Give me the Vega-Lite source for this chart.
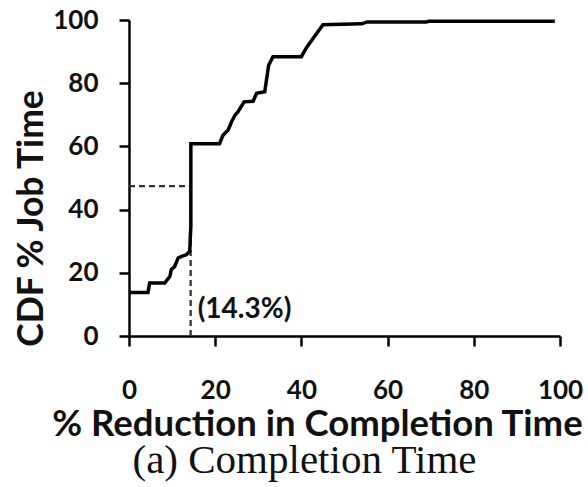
{
  "$schema": "https://vega.github.io/schema/vega-lite/v6.json",
  "width": 431,
  "height": 316,
  "autosize": {"type": "none"},
  "padding": {"left": 129, "top": 20, "right": 28, "bottom": 151},
  "background": "white",
  "title": {
    "text": "(a) Completion Time",
    "orient": "bottom",
    "anchor": "middle",
    "frame": "group",
    "dx": -40,
    "offset": -2,
    "font": "Liberation Serif",
    "fontSize": 41,
    "fontWeight": "normal",
    "color": "#111111"
  },
  "datasets": {
    "curve": [
      {"i": 1, "reduction": 0, "cdf": 13.8},
      {"i": 2, "reduction": 4.4, "cdf": 13.8},
      {"i": 3, "reduction": 4.8, "cdf": 16.8},
      {"i": 4, "reduction": 8.3, "cdf": 16.8},
      {"i": 5, "reduction": 9.5, "cdf": 18.9},
      {"i": 6, "reduction": 9.8, "cdf": 21.0},
      {"i": 7, "reduction": 10.6, "cdf": 22.0},
      {"i": 8, "reduction": 11.4, "cdf": 24.7},
      {"i": 9, "reduction": 12.2, "cdf": 25.2},
      {"i": 10, "reduction": 13.3, "cdf": 25.7},
      {"i": 11, "reduction": 14.1, "cdf": 26.8},
      {"i": 12, "reduction": 14.2, "cdf": 30.5},
      {"i": 13, "reduction": 14.35, "cdf": 34.7},
      {"i": 14, "reduction": 14.35, "cdf": 60.8},
      {"i": 15, "reduction": 21.0, "cdf": 60.8},
      {"i": 16, "reduction": 21.8, "cdf": 63.5},
      {"i": 17, "reduction": 23.0, "cdf": 65.2},
      {"i": 18, "reduction": 23.8, "cdf": 67.8},
      {"i": 19, "reduction": 24.6, "cdf": 69.9},
      {"i": 20, "reduction": 25.3, "cdf": 71.0},
      {"i": 21, "reduction": 26.7, "cdf": 74.1},
      {"i": 22, "reduction": 28.8, "cdf": 74.3},
      {"i": 23, "reduction": 29.6, "cdf": 76.8},
      {"i": 24, "reduction": 31.5, "cdf": 77.3},
      {"i": 25, "reduction": 32.4, "cdf": 85.7},
      {"i": 26, "reduction": 33.4, "cdf": 88.4},
      {"i": 27, "reduction": 40.0, "cdf": 88.4},
      {"i": 28, "reduction": 41.2, "cdf": 91.3},
      {"i": 29, "reduction": 45.0, "cdf": 98.5},
      {"i": 30, "reduction": 54.0, "cdf": 98.8},
      {"i": 31, "reduction": 55.3, "cdf": 99.4},
      {"i": 32, "reduction": 69.0, "cdf": 99.4},
      {"i": 33, "reduction": 69.5, "cdf": 99.6},
      {"i": 34, "reduction": 98.8, "cdf": 99.6}
    ],
    "guides": [
      {"x": 0, "x2": 14.3, "y": 47.4, "y2": 47.4},
      {"x": 14.3, "x2": 14.3, "y": 0, "y2": 47.4}
    ],
    "note": [
      {"x": 14.3, "y": 8.2, "label": "(14.3%)"}
    ]
  },
  "layer": [
    {
      "data": {"name": "guides"},
      "mark": {"type": "rule", "color": "#333333", "strokeWidth": 2.3, "strokeDash": [6, 4]},
      "encoding": {
        "x": {"field": "x", "type": "quantitative"},
        "x2": {"field": "x2"},
        "y": {"field": "y", "type": "quantitative"},
        "y2": {"field": "y2"}
      }
    },
    {
      "data": {"name": "curve"},
      "mark": {"type": "line", "color": "black", "strokeWidth": 3.5, "strokeJoin": "miter"},
      "encoding": {
        "x": {
          "field": "reduction",
          "type": "quantitative",
          "scale": {"domain": [0, 100], "nice": false},
          "axis": {
            "values": [0, 20, 40, 60, 80, 100],
            "title": "% Reduction in Completion Time",
            "labelBaseline": "alphabetic",
            "labelPadding": 52,
            "titleX": 188,
            "titleY": 99,
            "titleAlign": "center",
            "titleBaseline": "alphabetic",
            "titleFontSize": 36.5
          }
        },
        "y": {
          "field": "cdf",
          "type": "quantitative",
          "scale": {"domain": [0, 100], "nice": false},
          "axis": {
            "values": [0, 20, 40, 60, 80, 100],
            "title": "CDF % Job Time",
            "labelPadding": 21,
            "labelBaseline": "middle",
            "titleAngle": -90,
            "titleX": -87,
            "titleY": 198,
            "titleAlign": "center",
            "titleBaseline": "alphabetic",
            "titleFontSize": 35.5
          }
        },
        "order": {"field": "i", "type": "quantitative"}
      }
    },
    {
      "data": {"name": "note"},
      "mark": {"type": "text", "align": "left", "baseline": "middle", "dx": 7, "font": "Lato", "fontWeight": "bold", "fontSize": 28, "color": "#111111"},
      "encoding": {
        "x": {"field": "x", "type": "quantitative"},
        "y": {"field": "y", "type": "quantitative"},
        "text": {"field": "label"}
      }
    }
  ],
  "config": {
    "view": {"stroke": null},
    "axis": {
      "grid": false,
      "domainColor": "black",
      "domainWidth": 2.5,
      "tickColor": "black",
      "tickWidth": 2.5,
      "tickSize": 10,
      "labelFont": "Lato",
      "labelFontWeight": "bold",
      "labelFontSize": 26,
      "labelColor": "#111111",
      "labelBound": false,
      "labelFlush": false,
      "labelOverlap": false,
      "titleFont": "Lato",
      "titleFontWeight": "bold",
      "titleFontSize": 35,
      "titleColor": "#111111"
    }
  }
}
